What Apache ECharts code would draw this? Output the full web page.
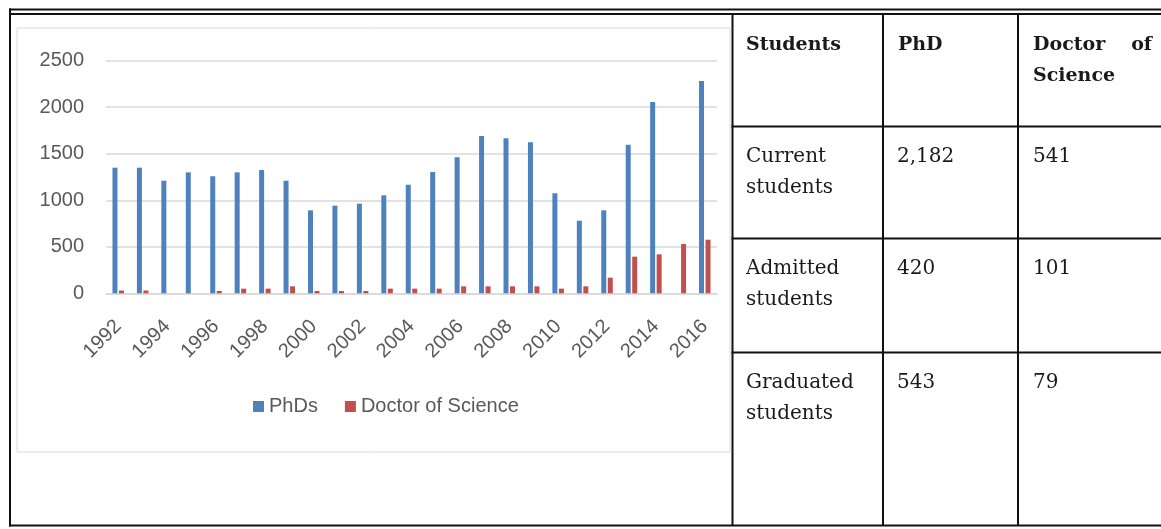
<!DOCTYPE html>
<html>
<head>
<meta charset="utf-8">
<script src="https://cdn.jsdelivr.net/npm/echarts@6/dist/echarts.min.js"></script>
<style>
  html, body { margin: 0; padding: 0; background: #fff; }
  #main { width: 1161px; height: 529px; }
</style>
</head>
<body>
<div id="main"></div>
<script>
// chart data
const years = ['1992', '1993', '1994', '1995', '1996', '1997', '1998', '1999', '2000', '2001', '2002', '2003', '2004',
  '2005', '2006', '2007', '2008', '2009', '2010', '2011', '2012', '2013', '2014', '2015', '2016']
const phds = [1350, 1350, 1210, 1300, 1258, 1300, 1325, 1210, 892, 942, 963, 1053, 1167,
  1304, 1462, 1691, 1666, 1623, 1075, 780, 892, 1597, 2056, 0, 2282]
const doctors = [30, 30, 0, 0, 25, 50, 50, 75, 25, 25, 25, 50, 50,
  50, 75, 75, 75, 75, 50, 75, 168, 394, 419, 530, 576]

// table data
const headers = ['Students', 'PhD', 'Doctor of Science']
const rowLabels = [['Current', 'students'], ['Admitted', 'students'], ['Graduated', 'students']]
const phdCounts = ['2,182', '420', '543']
const doctorCounts = ['541', '101', '79']

const chart = echarts.init(document.getElementById('main'))

const serif = '"DejaVu Serif", serif'
const textColor = '#1a1a1a'

// table lines
const colX = [731.5, 882, 1017]
const rowY = [125.5, 237.5, 351.5]
const lines = []
function line(x, y, w, h) {
  lines.push({ type: 'rect', silent: true, shape: { x, y, width: w, height: h }, style: { fill: '#111' } })
}
line(9, 8.5, 1152, 2)
line(9, 13, 1152, 2)
line(9, 8.5, 2, 518)
line(9, 524.5, 1152, 2)
colX.forEach(x => line(x, 13, 2, 513))
rowY.forEach(y => line(731.5, y, 430, 2))

// chart frame
lines.push({
  type: 'rect', silent: true,
  shape: { x: 17, y: 28, width: 713, height: 424 },
  style: { fill: 'none', stroke: '#d9d9d9', lineWidth: 1 }
})

// table text, y is the baseline
function txt(s, x, y, bold, align) {
  const size = bold ? 19 : 20
  return {
    type: 'text', silent: true, x, y: y - size * 0.35,
    style: {
      text: s, fill: textColor, align: align || 'left', verticalAlign: 'middle',
      font: (bold ? 'bold ' : '') + size + 'px ' + serif
    }
  }
}
const texts = [
  txt(headers[0], 746, 51.5, true),
  txt(headers[1], 898, 51.5, true),
  txt('Doctor', 1033, 51.5, true),
  txt('of', 1152, 51.5, true, 'right'),
  txt('Science', 1033, 83, true)
]
const rowTops = [126.5, 238.5, 352.5]
rowTops.forEach((top, i) => {
  texts.push(txt(rowLabels[i][0], 746, top + 37))
  texts.push(txt(rowLabels[i][1], 746, top + 68.5))
  texts.push(txt(phdCounts[i], 897, top + 37))
  texts.push(txt(doctorCounts[i], 1033, top + 37))
})

const labelFont = '"Liberation Sans", Arial, sans-serif'

const option = {
  animation: false,
  grid: { left: 106, right: 444, top: 60.7, bottom: 235.7 },
  legend: {
    left: 253,
    top: 396.5,
    padding: 0,
    itemWidth: 11,
    itemHeight: 11,
    itemGap: 27,
    icon: 'rect',
    textStyle: { fontFamily: labelFont, fontSize: 20, color: '#595959' },
    data: ['PhDs', 'Doctor of Science']
  },
  xAxis: {
    type: 'category',
    data: years,
    axisLine: { show: true, lineStyle: { color: '#d9d9d9', width: 1.5 } },
    axisTick: { show: false },
    axisLabel: {
      interval: 1,
      rotate: 45,
      margin: 30,
      fontFamily: labelFont,
      fontSize: 20,
      color: '#595959'
    }
  },
  yAxis: {
    type: 'value',
    min: 0,
    max: 2500,
    interval: 500,
    axisLine: { show: false },
    axisTick: { show: false },
    splitLine: { lineStyle: { color: '#d9d9d9', width: 1.5 } },
    axisLabel: {
      margin: 22,
      formatter: v => String(v),
      fontFamily: labelFont,
      fontSize: 20,
      color: '#595959'
    }
  },
  series: [
    {
      name: 'PhDs',
      type: 'bar',
      data: phds,
      barWidth: 5,
      barGap: '30%',
      itemStyle: { color: '#4f81bd' }
    },
    {
      name: 'Doctor of Science',
      type: 'bar',
      data: doctors,
      barWidth: 5,
      itemStyle: { color: '#c0504d' }
    }
  ],
  graphic: lines.concat(texts)
}

chart.setOption(option)
</script>
</body>
</html>
